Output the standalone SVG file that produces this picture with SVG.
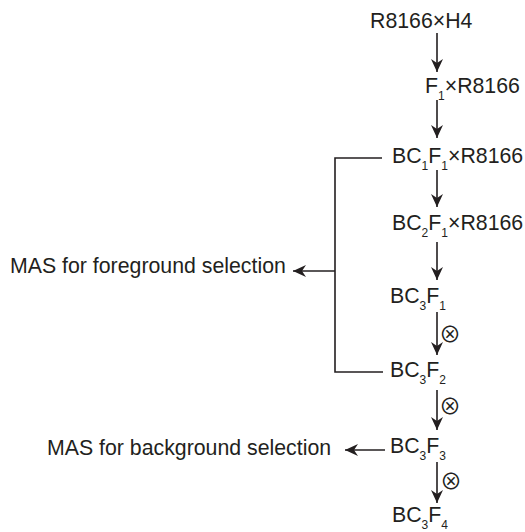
<svg xmlns="http://www.w3.org/2000/svg" width="525" height="532" viewBox="0 0 525 532">
<style>
text{font-family:"Liberation Sans",Arial,sans-serif;font-size:21.3px;fill:#231f20}
.sub{font-size:12px}
.op{font-family:"Noto Sans CJK SC","DejaVu Sans",sans-serif;font-size:22px;text-anchor:middle;dominant-baseline:central}
.ln{stroke:#231f20;stroke-width:1.6;fill:none}
.ar{marker-end:url(#ah)}
</style>
<defs>
<marker id="ah" markerUnits="userSpaceOnUse" markerWidth="14" markerHeight="14" refX="13" refY="7" orient="auto" viewBox="0 0 14 14">
<path d="M0,1 L13,7 L0,13 L4,7 z" fill="#231f20"/>
</marker>
</defs>
<rect width="525" height="532" fill="#fff"/>
<g id="connectors">
<line class="ln ar" x1="437" y1="33" x2="437" y2="72"/>
<line class="ln ar" x1="437" y1="100" x2="437" y2="138"/>
<line class="ln ar" x1="437" y1="170" x2="437" y2="207"/>
<line class="ln ar" x1="437" y1="242" x2="437" y2="280"/>
<line class="ln ar" x1="437" y1="312" x2="437" y2="355"/>
<line class="ln ar" x1="437" y1="390" x2="437" y2="430"/>
<line class="ln ar" x1="437" y1="462" x2="437" y2="503"/>
<polyline class="ln" points="382,158 335,158 335,372 383,372"/>
<line class="ln ar" x1="335" y1="271" x2="293" y2="271"/>
<line class="ln ar" x1="385" y1="450" x2="345" y2="450"/>
<text class="op" x="450" y="332">⊗</text>
<text class="op" x="450" y="404">⊗</text>
<text class="op" x="451" y="479">⊗</text>
</g>
<g id="n1"><text x="370" y="28">R8166×H4</text></g>
<g id="n2"><text x="425" y="93">F<tspan class="sub" dy="7">1</tspan><tspan dy="-7">×R8166</tspan></text></g>
<g id="n3"><text x="392" y="163">BC<tspan class="sub" dy="7">1</tspan><tspan dy="-7">F</tspan><tspan class="sub" dy="7">1</tspan><tspan dy="-7">×R8166</tspan></text></g>
<g id="n4"><text x="392" y="230">BC<tspan class="sub" dy="7">2</tspan><tspan dy="-7">F</tspan><tspan class="sub" dy="7">1</tspan><tspan dy="-7">×R8166</tspan></text></g>
<g id="n5"><text x="390" y="303">BC<tspan class="sub" dy="7">3</tspan><tspan dy="-7">F</tspan><tspan class="sub" dy="7">1</tspan></text></g>
<g id="n6"><text x="390" y="377">BC<tspan class="sub" dy="7">3</tspan><tspan dy="-7">F</tspan><tspan class="sub" dy="7">2</tspan></text></g>
<g id="n7"><text x="390" y="453">BC<tspan class="sub" dy="7">3</tspan><tspan dy="-7">F</tspan><tspan class="sub" dy="7">3</tspan></text></g>
<g id="n8"><text x="392" y="522">BC<tspan class="sub" dy="7">3</tspan><tspan dy="-7">F</tspan><tspan class="sub" dy="7">4</tspan></text></g>
<g id="fg"><text x="10" y="273">MAS for foreground selection</text></g>
<g id="bg"><text x="47" y="455">MAS for background selection</text></g>
</svg>
